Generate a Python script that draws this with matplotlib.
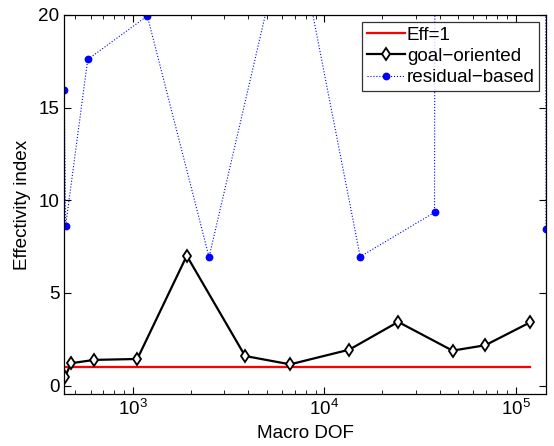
import numpy as np
import matplotlib
matplotlib.use("Agg")
import matplotlib.pyplot as plt
from matplotlib.ticker import LogLocator, NullFormatter

plt.rcParams['font.family'] = ['Liberation Sans', 'DejaVu Sans']
plt.rcParams['mathtext.fontset'] = 'custom'
plt.rcParams['mathtext.rm'] = 'Liberation Sans'
plt.rcParams['mathtext.it'] = 'Liberation Sans:italic'

# data
goal_dof = [441, 474, 628, 1053, 1909, 3850, 6618, 13460, 24270, 46670, 69200, 118900]
goal_eff = [0.45, 1.21, 1.39, 1.44, 7.01, 1.60, 1.15, 1.94, 3.44, 1.89, 2.18, 3.42]

resid_dof = [437.4, 444.8, 579.9, 1188, 2496, 6698, 15370, 37580, 73450, 143700]
resid_eff = [15.93, 8.63, 17.6, 19.95, 6.93, 26.0, 6.96, 9.35, 2000.0, 8.44]

eff_one_dof = [437.4, 118900]
eff_one = [1, 1]

FS = 13.6

fig = plt.figure(figsize=(5.54, 4.46), dpi=100)
ax = fig.add_axes([0.116, 0.1166, 0.8696, 0.8498])

ax.plot(eff_one_dof, eff_one, color='red', lw=1.6, label='Eff=1')
ax.plot(goal_dof, goal_eff, color='black', lw=1.6, marker='d', ms=6,
        mfc='white', mec='black', mew=1.3, label='goal\u2212oriented')
ax.plot(resid_dof, resid_eff, color='blue', lw=0.8, ls=':', marker='o', ms=4.6,
        mfc='blue', mec='blue', label='residual\u2212based')

ax.set_xscale('log')
ax.set_xlim(437.4, 143700)
ax.set_ylim(-0.45, 20)
ax.set_yticks([0, 5, 10, 15, 20])
ax.xaxis.set_minor_locator(LogLocator(base=10, subs=np.arange(2, 10)))
ax.xaxis.set_minor_formatter(NullFormatter())

ax.tick_params(which='both', direction='in', top=True, right=True, labelsize=FS)
ax.tick_params(which='major', length=5, width=0.8)
ax.tick_params(which='minor', length=3, width=0.6)
for s in ax.spines.values():
    s.set_linewidth(0.9)

ax.set_xlabel('Macro DOF', fontsize=FS, labelpad=4)
ax.set_ylabel('Effectivity index', fontsize=FS, labelpad=5)

leg = ax.legend(loc='upper right', fontsize=FS, frameon=True, fancybox=False,
                edgecolor='black', borderpad=0.25, labelspacing=0.22,
                handlelength=2.0, handletextpad=0.1, borderaxespad=0.35)
leg.get_frame().set_linewidth(0.9)

fig.savefig('out.png', dpi=100)
